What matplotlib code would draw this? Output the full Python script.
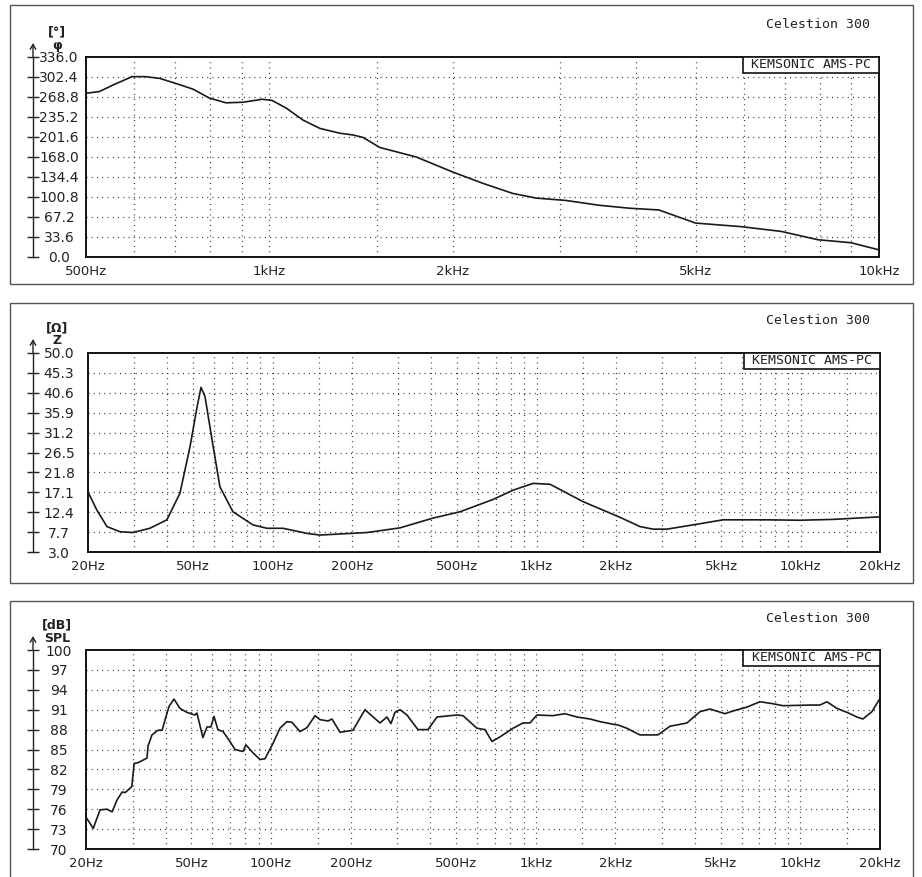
import matplotlib
matplotlib.use('Agg')
import matplotlib.pyplot as plt
from matplotlib import transforms
from matplotlib.patches import Rectangle
from matplotlib.ticker import NullLocator

# ---- data ----
# phase (deg) 500Hz..10kHz
phase_freq = [500, 526, 554, 595, 626, 661, 705, 749, 797, 849, 904, 973, 1010,
              1066, 1135, 1210, 1304, 1371, 1423, 1517, 1741, 1996, 2236, 2503,
              2736, 3065, 3469, 3890, 4354, 5000, 5939, 6909, 7942, 8995, 10000]
phase_deg = [275, 278, 289, 303, 303, 300, 291, 282, 267, 259, 260, 265, 263,
             250, 230, 216, 208, 205, 201, 184, 168, 143, 124, 107,
             99, 95, 87, 82, 79, 57, 51, 43, 29, 24, 12]
phase_ticks = [0.0, 33.6, 67.2, 100.8, 134.4, 168.0, 201.6, 235.2, 268.8, 302.4, 336.0]
phase_xticks = [500, 1000, 2000, 5000, 10000]
phase_xlabels = ['500Hz', '1kHz', '2kHz', '5kHz', '10kHz']
phase_grid = [600, 700, 800, 900, 1000, 1500, 2000, 3000, 4000, 5000, 6000, 7000, 8000, 9000]

# impedance (ohm) 20Hz..20kHz
imp_freq = [20, 21.6, 23.6, 26.4, 29.6, 34.3, 39.8, 44.6, 48.7, 51.8, 53.6, 55.5,
            59, 63.2, 70.8, 84.3, 95.3, 109.6, 135, 151, 228, 304, 405, 513, 684,
            815, 970, 1125, 1500, 1738, 2070, 2466, 2761, 3120, 3914, 5083, 7462,
            9950, 13270, 20000]
imp_ohm = [17.2, 12.9, 9.0, 7.8, 7.6, 8.6, 10.6, 16.9, 27.9, 37.3, 41.9, 39.7,
           29.5, 18.4, 12.5, 9.4, 8.6, 8.6, 7.4, 7.0, 7.6, 8.7, 11.0, 12.5, 15.4,
           17.6, 19.2, 19.0, 14.9, 13.2, 11.2, 9.0, 8.4, 8.4, 9.4, 10.6, 10.6,
           10.5, 10.7, 11.3]
imp_ticks = [3.0, 7.7, 12.4, 17.1, 21.8, 26.5, 31.2, 35.9, 40.6, 45.3, 50.0]

# SPL (dB) 20Hz..20kHz
spl_freq = [20, 21.3, 22.6, 24.0, 25.1, 26.2, 27.4, 28.1, 29.8, 30.4, 31.4, 34.0,
            34.3, 35.5, 37.4, 38.8, 39.8, 41.2, 43.0, 45.3, 48.1, 51.6, 52.5,
            55.3, 57.3, 59.3, 60.9, 63.0, 65.9, 70.0, 73.1, 78.4, 80.4, 85.5,
            90.9, 94.9, 101.7, 108.1, 114.9, 120.0, 128.7, 136.8, 146.7, 153.2,
            164.2, 170.0, 182.2, 204.0, 226.5, 258.0, 274.2, 284.0, 294.0, 307.2,
            326.4, 359.2, 392.0, 423.7, 504.2, 531.4, 600.2, 643.5, 683.8, 733.1,
            820.8, 895.6, 951.7, 1011, 1162, 1290, 1432, 1604, 1749, 1859, 1959,
            2046, 2212, 2477, 2897, 3216, 3729, 4175, 4556, 5191, 5565, 6286,
            7039, 7882, 8598, 10870, 11860, 12605, 13750, 15000, 16360, 17240,
            18640, 20000]
spl_db = [74.8, 73.1, 75.9, 76.0, 75.6, 77.4, 78.6, 78.5, 79.4, 82.9, 83.0, 83.7,
          85.5, 87.2, 87.9, 87.9, 89.5, 91.5, 92.6, 91.2, 90.6, 90.2, 90.5,
          86.8, 88.4, 88.4, 90.0, 88.0, 87.7, 86.2, 85.0, 84.7, 85.7, 84.5,
          83.5, 83.6, 85.9, 88.2, 89.2, 89.1, 87.7, 88.3, 90.1, 89.5,
          89.3, 89.6, 87.6, 87.9, 91.0, 89.0, 89.9, 88.9, 90.6, 91.0,
          90.2, 88.0, 88.0, 89.9, 90.2, 90.1, 88.2, 88.0, 86.2, 86.9,
          88.2, 89.0, 89.0, 90.2, 90.1, 90.4, 89.9, 89.6, 89.2, 89.0, 88.8,
          88.7, 88.2, 87.2, 87.2, 88.5, 89.0, 90.7, 91.1, 90.4, 90.8, 91.4,
          92.2, 91.9, 91.6, 91.7, 91.7, 92.2, 91.2, 90.6, 89.9, 89.6,
          90.7, 92.7]
spl_ticks = [70, 73, 76, 79, 82, 85, 88, 91, 94, 97, 100]

wide_xticks = [20, 50, 100, 200, 500, 1000, 2000, 5000, 10000, 20000]
wide_xlabels = ['20Hz', '50Hz', '100Hz', '200Hz', '500Hz', '1kHz', '2kHz', '5kHz', '10kHz', '20kHz']
wide_grid = [30, 40, 50, 60, 70, 80, 90, 100, 150, 200, 300, 400, 500, 600, 700, 800, 900,
             1000, 1500, 2000, 3000, 4000, 5000, 6000, 7000, 8000, 9000, 10000, 15000]

W, H = 922, 877
fig = plt.figure(figsize=(W / 100, H / 100), dpi=100)
fig.patch.set_facecolor('white')


def fx(x):
    return x / W


def fy(y):
    return 1 - y / H


def draw_panel(plot_box, frame_box, freq, vals, ticks, tick_fmt, xticks, xlabels, grid_x,
               unit, qty):
    l, t, r, b = plot_box
    # outer frame of the panel
    fl, ft, fr, fb = frame_box
    fig.patches.append(Rectangle((fx(fl), fy(fb)), (fr - fl) / W, (fb - ft) / H,
                                 transform=fig.transFigure, fill=False,
                                 ec='#555555', lw=1.0))
    ax = fig.add_axes([fx(l), fy(b), (r - l) / W, (b - t) / H])
    ax.set_xscale('log')
    ax.set_xlim(xticks[0], xticks[-1])
    ax.set_ylim(ticks[0], ticks[-1])
    ax.plot(freq, vals, color='#1a1a1a', lw=1.2, zorder=3)

    dots = (0, (0.8, 3.4))
    for gx in grid_x:
        ax.axvline(gx, color='#333333', lw=0.9, ls=dots, zorder=1)
    for gy in ticks[1:-1]:
        ax.axhline(gy, color='#333333', lw=0.9, ls=dots, zorder=1)

    ax.set_xticks(xticks, xlabels)
    ax.xaxis.set_minor_locator(NullLocator())
    ax.tick_params(axis='x', length=0, pad=6, labelsize=9.5, labelcolor='#222222')
    ax.set_yticks(ticks, [tick_fmt.format(v) for v in ticks])
    ax.tick_params(axis='y', length=0, pad=(l - 59) * 0.72, labelsize=10,
                   labelcolor='#222222')
    for lab in ax.get_yticklabels():
        lab.set_horizontalalignment('center')
    for sp in ax.spines.values():
        sp.set_linewidth(1.4)
        sp.set_color('#111111')

    # separate value axis with arrow and cross ticks
    trans = transforms.blended_transform_factory(fig.transFigure, ax.transData)
    ax.plot([fx(33), fx(33)], [ticks[0], ticks[-1]], transform=trans, clip_on=False,
            color='#222222', lw=1.0)
    ax.plot([fx(33)] * len(ticks), ticks, transform=trans, ls='none', marker='_',
            ms=9, mew=1.0, color='#222222', clip_on=False)
    ax.annotate('', xy=(fx(33), fy(t - 14)), xycoords='figure fraction',
                xytext=(fx(33), fy(t)), textcoords='figure fraction',
                arrowprops=dict(arrowstyle='->,head_length=0.35,head_width=0.2',
                                color='#222222', lw=1.0, shrinkA=0, shrinkB=0))
    fig.text(fx(57), fy(t - 25), unit, ha='center', va='center', fontsize=9,
             fontweight='bold', color='#222222')
    fig.text(fx(57), fy(t - 12), qty, ha='center', va='center', fontsize=9,
             fontweight='bold', color='#222222')

    # instrument tag in the corner
    ax.add_patch(Rectangle((0.828, 0.92), 0.172, 0.08, transform=ax.transAxes,
                           fc='white', ec='#111111', lw=1.2, zorder=4))
    ax.text(0.914, 0.96, 'KEMSONIC AMS-PC', transform=ax.transAxes, ha='center',
            va='center', fontsize=9.5, family='DejaVu Sans Mono', zorder=5,
            color='#222222')
    fig.text(fx(870), fy(t - 32), 'Celestion 300', ha='right', va='center',
             fontsize=9.5, family='DejaVu Sans Mono', color='#222222')
    return ax


draw_panel((86, 57, 879, 257), (10, 5, 913, 284), phase_freq, phase_deg,
           phase_ticks, '{:.1f}', phase_xticks, phase_xlabels, phase_grid, '[°]', 'φ')
draw_panel((88, 353, 880, 552), (10, 303, 913, 583), imp_freq, imp_ohm,
           imp_ticks, '{:.1f}', wide_xticks, wide_xlabels, wide_grid, '[Ω]', 'Z')
draw_panel((86, 650, 880, 849), (10, 601, 913, 880), spl_freq, spl_db,
           spl_ticks, '{:d}', wide_xticks, wide_xlabels, wide_grid, '[dB]', 'SPL')

fig.savefig('out.png', dpi=100, facecolor='white')
